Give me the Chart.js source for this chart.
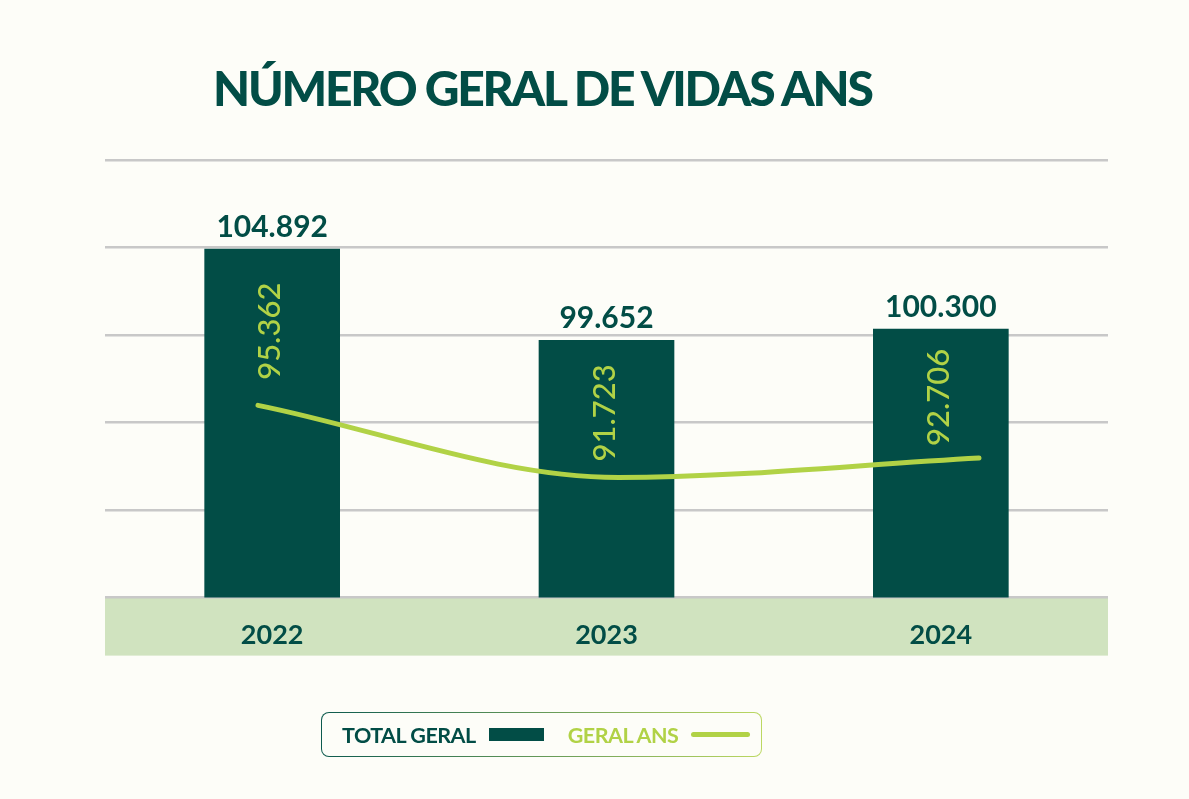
<!DOCTYPE html>
<html lang="pt-BR">
<head>
<meta charset="utf-8">
<title>Número geral de vidas ANS</title>
<script src="https://cdn.jsdelivr.net/npm/chart.js@4.4.1/dist/chart.umd.min.js"></script>
<style>
  html, body { margin: 0; padding: 0; background: #fdfdf8; }
  #wrap { position: relative; width: 1189px; height: 799px; overflow: hidden; }
  #chart { position: absolute; left: 0; top: 0; }
  h1 {
    position: absolute; left: 213px; top: 64px; margin: 0;
    font-family: Lato, sans-serif; font-weight: 900; font-size: 48px; line-height: 48px;
    letter-spacing: -2.2px; color: #024d46; white-space: nowrap;
  }
  #legend {
    position: absolute; left: 321px; top: 712px; width: 439px; height: 43px;
    border: 1.5px solid transparent; border-radius: 8px;
    background: linear-gradient(#fdfdf8, #fdfdf8) padding-box,
                linear-gradient(90deg, #0d5a4e, #bcd862) border-box;
    display: flex; align-items: center;
    font-family: Lato, sans-serif; font-weight: 700; font-size: 21.5px; letter-spacing: -0.5px;
  }
  .item { display: flex; align-items: center; }
  .item span.swatch { display: inline-block; margin-left: 13px; }
</style>
</head>
<body>
<div id="wrap">
  <canvas id="chart" width="1189" height="799"></canvas>
  <h1>NÚMERO GERAL DE VIDAS ANS</h1>
  <div id="legend"></div>
</div>
<script>
const years = ["2022", "2023", "2024"];
const totalGeral = [104892, 99652, 100300];
const geralAns = [95362, 91723, 92706];

const darkGreen = "#024d46";
const lightGreen = "#b1d246";
const bandGreen = "#d0e3bf";

const fmt = (v) => String(v).replace(/\B(?=(\d{3})+(?!\d))/g, ".");

// faixa verde por baixo do eixo x (antes dos eixos, para os anos ficarem por cima)
const bandPlugin = {
  id: "band",
  beforeDraw(chart) {
    const { ctx, chartArea } = chart;
    ctx.save();
    ctx.fillStyle = bandGreen;
    ctx.fillRect(chartArea.left, chartArea.bottom - 1, chartArea.right - chartArea.left, 59);
    ctx.restore();
  }
};

// valores acima das barras e valores ANS (rotacionados) dentro das barras
const valuesPlugin = {
  id: "values",
  afterDatasetsDraw(chart) {
    const { ctx } = chart;
    const bars = chart.getDatasetMeta(0).data;
    const pts = chart.getDatasetMeta(1).data;
    ctx.save();
    bars.forEach((bar, i) => {
      ctx.fillStyle = darkGreen;
      ctx.font = "700 30px Lato";
      ctx.textAlign = "center";
      ctx.textBaseline = "alphabetic";
      ctx.fillText(fmt(totalGeral[i]), bar.x, bar.y - 12);

      // entre o topo da barra e a linha
      const cy = (bar.y + pts[i].y) / 2 + 4;
      ctx.save();
      ctx.translate(bar.x - 2, cy);
      ctx.rotate(-Math.PI / 2);
      ctx.fillStyle = lightGreen;
      ctx.font = "500 31px Lato";
      ctx.textBaseline = "middle";
      ctx.fillText(fmt(geralAns[i]), 0, 0);
      ctx.restore();
    });
    ctx.restore();
  }
};

const chart = new Chart(document.getElementById("chart"), {
  type: "bar",
  data: {
    labels: years,
    datasets: [
      {
        type: "bar",
        label: "TOTAL GERAL",
        data: totalGeral,
        xAxisID: "x",
        yAxisID: "y",
        backgroundColor: darkGreen,
        barThickness: 135,
        grouped: false,
        order: 1
      },
      {
        type: "line",
        label: "GERAL ANS",
        data: geralAns.map((v, i) => ({ x: i, y: v })),
        xAxisID: "x2",
        yAxisID: "y2",
        borderColor: lightGreen,
        backgroundColor: lightGreen,
        borderWidth: 5,
        borderCapStyle: "round",
        pointRadius: 0,
        cubicInterpolationMode: "monotone",
        order: 0
      }
    ]
  },
  options: {
    responsive: false,
    animation: false,
    layout: { padding: { left: 105, right: 81, top: 160, bottom: 135 } },
    plugins: {
      legend: { display: false },
      tooltip: { enabled: false },
      title: { display: false }
    },
    scales: {
      x: {
        type: "category",
        offset: true,
        grid: { display: false },
        border: { display: false },
        ticks: {
          color: darkGreen,
          font: { family: "Lato", size: 27, weight: "700" },
          padding: 13
        }
      },
      x2: { type: "linear", display: false, offset: false, min: -0.4244, max: 2.3578 },
      y: {
        min: 84854,
        max: 110017,
        border: { display: false },
        grid: { color: "#c8c8c8", lineWidth: 2.5, drawTicks: false },
        ticks: { display: false },
        afterBuildTicks(scale) {
          const step = (scale.max - scale.min) / 5;
          scale.ticks = [0, 1, 2, 3, 4, 5].map((k) => ({ value: scale.min + k * step }));
        }
      },
      y2: { display: false, min: 85658, max: 107744 }
    }
  },
  plugins: [bandPlugin, valuesPlugin]
});

// legenda em html a partir dos datasets
const legend = document.getElementById("legend");
chart.data.datasets.forEach((ds, n) => {
  const item = document.createElement("div");
  item.className = "item";
  item.style.marginLeft = n === 0 ? "20px" : "24px";
  item.style.color = ds.type === "bar" ? darkGreen : lightGreen;
  const text = document.createElement("span");
  text.textContent = ds.label;
  const sw = document.createElement("span");
  sw.className = "swatch";
  if (ds.type === "bar") {
    sw.style.width = "55px"; sw.style.height = "13px"; sw.style.background = ds.backgroundColor;
  } else {
    sw.style.width = "59px"; sw.style.height = "5px"; sw.style.borderRadius = "3px"; sw.style.background = ds.borderColor;
  }
  item.appendChild(text);
  item.appendChild(sw);
  legend.appendChild(item);
});
</script>
</body>
</html>
